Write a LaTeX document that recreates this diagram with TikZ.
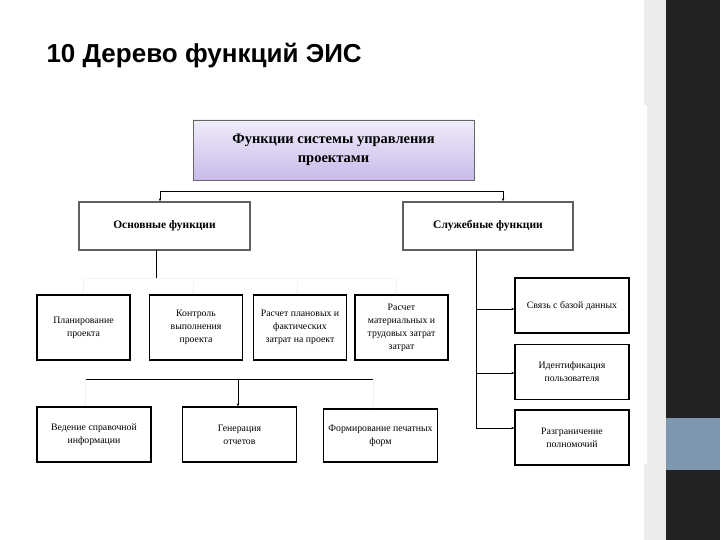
\documentclass[tikz,border=0pt]{standalone}
\usepackage{fontspec}
\setmainfont{Liberation Serif}
\newfontfamily\titlefont{Liberation Sans}
\usetikzlibrary{arrows.meta}
\definecolor{sideband}{RGB}{236,236,236}
\definecolor{darkstrip}{RGB}{34,34,34}
\definecolor{accentblue}{RGB}{125,152,174}
\definecolor{lavtop}{RGB}{240,236,250}
\definecolor{lavbottom}{RGB}{200,186,234}
\tikzset{
  topbox/.style={draw=gray!80!black, line width=0.8pt, top color=lavtop, bottom color=lavbottom,
    minimum width=281pt, minimum height=60pt, align=center, font=\fontsize{14.5}{19}\selectfont\bfseries},
  groupbox/.style={draw=gray!75!black, line width=1.6pt, fill=white, minimum width=171pt,
    minimum height=48pt, font=\fontsize{11.5}{13}\selectfont\bfseries},
  funcbox/.style={draw, line width=1.4pt, fill=white, minimum width=93pt, minimum height=65pt,
    align=center, inner sep=1pt, font=\fontsize{9.8}{13}\selectfont},
  widebox/.style={funcbox, minimum width=114pt, minimum height=55pt},
  link/.style={line width=0.7pt},
  faint/.style={line width=0.6pt, gray!10},
  tip/.style={-{Stealth[length=3pt,width=2.5pt]}}
}
\begin{document}
\begin{tikzpicture}[x=1pt,y=-1pt]
  % slide
  \useasboundingbox (0,0) rectangle (720,540);
  \fill[white] (0,0) rectangle (720,540);
  \fill[sideband] (644,0) rectangle (666,540);
  \fill[white] (33,105) rectangle (647,464);
  \fill[darkstrip] (666,0) rectangle (720,540);
  \fill[accentblue] (666,418) rectangle (720,470);
  \node[anchor=base west, font=\titlefont\fontsize{26}{30}\selectfont\bfseries] (title) at (43,63)
    {10 Дерево функций ЭИС};

  % top levels
  \node[topbox] (root) at (333.5,150) {Функции системы управления\\проектами};
  \node[groupbox] (main) at (164.5,226) {Основные функции};
  \node[groupbox, minimum width=170pt] (service) at (488,226) {Служебные функции};

  % main functions
  \node[funcbox] (plan) at (83.5,327.5) {Планирование\\проекта};
  \node[funcbox] (ctrl) at (196,327.5) {Контроль\\выполнения\\проекта};
  \node[funcbox] (cost) at (300,327.5) {Расчет плановых и\\фактических\\затрат на проект};
  \node[funcbox] (labor) at (401.5,327.5) {Расчет\\материальных и\\трудовых затрат\\затрат};
  \node[widebox] (refs) at (94,434.5) {Ведение справочной\\информации};
  \node[widebox] (reports) at (239.5,434.5) {Генерация\\отчетов};
  \node[widebox, minimum height=53pt] (forms) at (380.5,435.5) {Формирование печатных\\форм};

  % service functions
  \node[widebox] (db) at (572,305.5) {Связь с базой данных};
  \node[widebox] (ident) at (572,372) {Идентификация\\пользователя};
  \node[widebox] (rights) at (572,437.5) {Разграничение\\полномочий};

  % connectors
  \coordinate (busL) at (160,191);
  \coordinate (busR) at (503,191);
  \draw[link] (busL) -- (busR);
  \draw[link, tip] (busL) -- (busL |- main.north);
  \draw[link, tip] (busR) -- (busR |- service.north);

  \coordinate (mainout) at (156,250);
  \coordinate (mainbus) at (156,278);
  \draw[link] (mainout) -- (mainbus);
  \draw[faint] (83,278) -- (396,278);
  \foreach \fn/\x in {plan/83, ctrl/193, cost/297, labor/396} {
    \coordinate (drop) at (\x,278);
    \draw[faint, tip] (drop) -- (drop |- \fn.north);
  }

  \coordinate (lowL) at (85,379);
  \coordinate (lowR) at (373,379);
  \coordinate (lowM) at (238,379);
  \draw[link] (lowL) -- (lowR);
  \draw[link, tip] (lowM) -- (lowM |- reports.north);
  \draw[faint, tip] (lowL) -- (lowL |- refs.north);
  \draw[faint, tip] (lowR) -- (lowR |- forms.north);

  \coordinate (servout) at (476,250);
  \coordinate (s1) at (476,309);
  \coordinate (s2) at (476,373);
  \coordinate (s3) at (476,428);
  \draw[link] (servout) -- (s3);
  \draw[link, tip] (s1) -- (s1 -| db.west);
  \draw[link, tip] (s2) -- (s2 -| ident.west);
  \draw[link, tip] (s3) -- (s3 -| rights.west);
\end{tikzpicture}
\end{document}
